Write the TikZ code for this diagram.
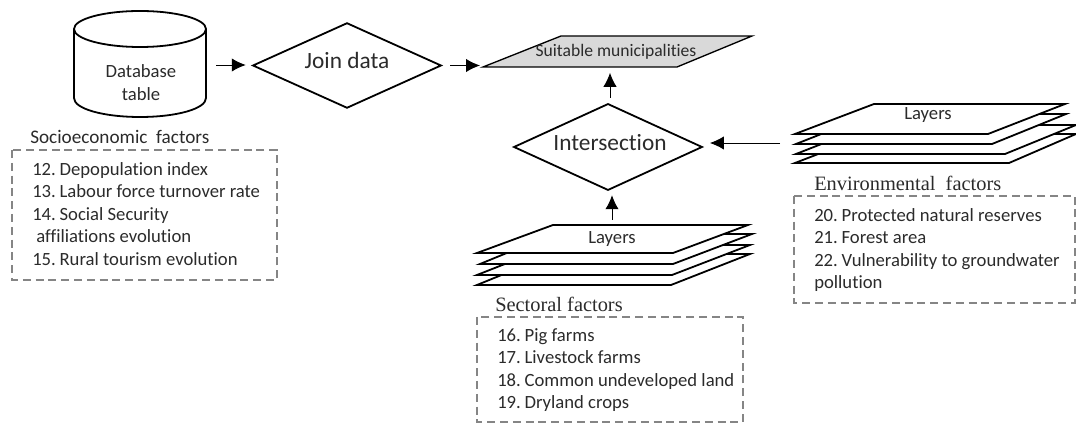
\documentclass[tikz,border=0pt]{standalone}
\usepackage{fontspec}
\setmainfont{Carlito}[Ligatures=NoCommon]
\newfontfamily\titlefont{Liberation Serif}
\usetikzlibrary{arrows.meta,shapes.geometric,calc}
\definecolor{ink}{HTML}{2B2B2B}
\definecolor{dashc}{HTML}{858585}
\definecolor{suitfill}{HTML}{D9D9D9}
\newcommand{\nk}{\kern0.2em}
\tikzset{
  x=0.75pt,y=-0.75pt,
  shapeline/.style={draw=black,line width=1.35pt,line join=miter},
  arr/.style={draw=black,line width=0.7pt,-{Latex[length=10.5pt,width=10pt]}},
  decide/.style={diamond,shapeline,fill=white,inner sep=0pt,aspect=2.2},
  anchorbox/.style={inner sep=0pt,outer sep=0pt},
  dashbox/.style={draw=dashc,line width=1pt,dash pattern=on 6pt off 3.6pt},
  bodytxt/.style={anchor=west,inner sep=0pt,text=ink,text height=11pt,text depth=2.8pt,font=\fontsize{14}{16}\selectfont},
  headtxt/.style={anchor=west,inner sep=0pt,text=ink,font=\fontsize{14.4}{16}\selectfont},
  sertxt/.style={anchor=west,inner sep=0pt,text=ink,font=\titlefont\fontsize{15.3}{17}\selectfont},
  layertxt/.style={inner sep=0pt,text=ink,font=\fontsize{14}{16}\selectfont},
  plate/.style={shapeline,fill=white},
}
\begin{document}
\begin{tikzpicture}
\useasboundingbox (0,0) rectangle (1076,423);
% database cylinder
\draw[shapeline,fill=white] (74,29) -- (74,98) .. controls (74,109) and (104,117) .. (140,117)
  .. controls (176,117) and (206,109) .. (206,98) -- (206,29);
\draw[shapeline,fill=white] (140,29) ellipse [x radius=66,y radius=18];
\node[anchorbox,minimum width=99pt,minimum height=60pt] (db) at (140,65) {};
\node[layertxt] (dbtext1) at (141,71) {Database};
\node[layertxt] (dbtext2) at (141,94) {table};
% diamonds
\node[decide,minimum width=141.5pt,minimum height=64pt] (join) at (347,65.5) {};
\node[inner sep=0pt,text=ink,font=\fontsize{17.5}{20}\selectfont] (jointext) at (347,60) {Join data};
\node[decide,minimum width=141.5pt,minimum height=65pt] (inter) at (608,147) {};
\node[inner sep=0pt,text=ink,font=\fontsize{17.5}{20}\selectfont] (intertext) at (610,143) {Intersection};
% output
\draw[shapeline,line width=1pt,fill=suitfill] (483,67) -- (677,67) -- (752,36) -- (561,36) -- cycle;
\node[anchorbox,minimum width=205.5pt,minimum height=23pt] (suit) at (617,51.5) {};
\node[inner sep=0pt,text=ink,font=\fontsize{13.2}{15}\selectfont] (suittext) at (616,52) {Suitable municipalities};
% environmental layers
\draw[plate] (795,163) -- (1009,163) -- (1076,134) -- (870,134) -- cycle;
\draw[plate] (796,154) -- (1005,154) -- (1076,125) -- (870,125) -- cycle;
\draw[plate] (796,144) -- (992,144) -- (1066,114) -- (872,114) -- cycle;
\draw[plate] (795,134) -- (988,134) -- (1065,104) -- (874,104) -- cycle;
\node[layertxt] (envlayers) at (928,115) {Layers};
\node[anchorbox,minimum width=222pt,minimum height=20pt] (envstack) at (928,143) {};
% sectoral layers
\draw[plate] (477,285) -- (671,285) -- (750,254) -- (553,254) -- cycle;
\draw[plate] (477,275) -- (672,275) -- (750,245) -- (553,245) -- cycle;
\draw[plate] (480,264) -- (673,264) -- (752,234) -- (553,234) -- cycle;
\draw[plate] (477,253) -- (673,253) -- (748,225) -- (553,225) -- cycle;
\node[layertxt] (seclayers) at (612,239) {Layers};
\node[anchorbox,minimum width=100pt,minimum height=36pt] (secstack) at (610,244) {};
% arrows
\draw[arr,shorten <=7.5pt,shorten >=4.5pt] (db.east) -- (db.east -| join.west);
\draw[arr,shorten <=6pt] (join.east) -- (join.east -| suit.west);
\draw[arr] ([xshift=1.5pt]inter.north) ++(0,-5) -- ([xshift=1.5pt,yshift=-4.5pt]inter.north |- suit.south);
\draw[arr] ([xshift=1.5pt]secstack.north) -- ([xshift=1.5pt,yshift=-3pt]secstack.north |- inter.south);
\draw[arr,shorten >=5pt] (envstack.west) -- (envstack.west -| inter.east);
% socioeconomic
\node[headtxt] (sochead) at (30,137) {Socioeconomic\ \ factors};
\draw[dashbox] (12,150) rectangle (277,280);
\node[bodytxt] (s12) at (32,170) {12.\nk Depopulation index};
\node[bodytxt] (s13) at (32,192) {13.\nk Labour force turnover rate};
\node[bodytxt] (s14) at (32,215) {14.\nk Social Security};
\node[bodytxt] (s14b) at (36,237) {affiliations evolution};
\node[bodytxt] (s15) at (32,260) {15.\nk Rural tourism evolution};
% sectoral
\node[sertxt] (sechead) at (495,304) {Sectoral factors};
\draw[dashbox] (477,317) rectangle (743,422);
\node[bodytxt] (t16) at (497,336) {16.\nk Pig farms};
\node[bodytxt] (t17) at (497,358) {17.\nk Livestock farms};
\node[bodytxt] (t18) at (497,381) {18.\nk Common undeveloped land};
\node[bodytxt] (t19) at (497,403) {19.\nk Dryland crops};
% environmental
\node[sertxt] (envhead) at (814,183) {Environmental\ \ factors};
\draw[dashbox] (794,196) rectangle (1075,303);
\node[bodytxt] (e20) at (814,216) {20.\nk Protected natural reserves};
\node[bodytxt] (e21) at (814,238) {21.\nk Forest area};
\node[bodytxt] (e22) at (814,261) {22.\nk Vulnerability to groundwater};
\node[bodytxt] (e22b) at (814,283) {pollution};
\end{tikzpicture}
\end{document}
